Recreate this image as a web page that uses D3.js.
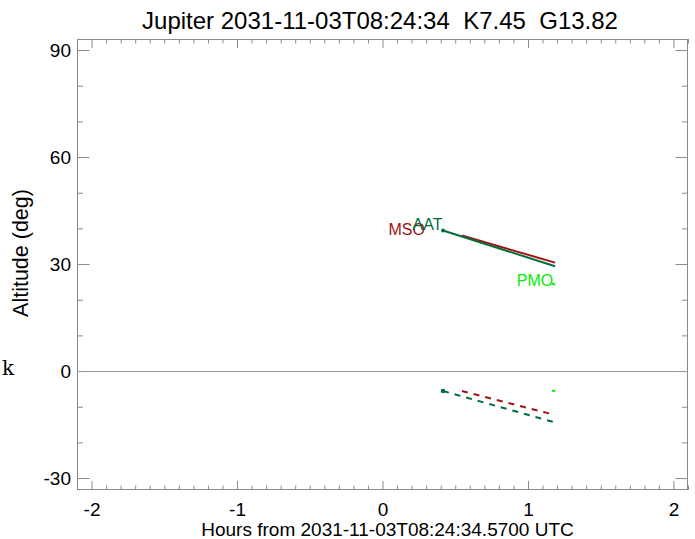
<!DOCTYPE html>
<html>
<head>
<meta charset="utf-8">
<script src="https://cdn.jsdelivr.net/npm/d3@7/dist/d3.min.js"></script>
<style>
  html, body { margin: 0; padding: 0; background: #fff; }
  svg { display: block; }
  text { white-space: pre; }
</style>
</head>
<body>
<svg id="chart" width="695" height="539"></svg>
<script>
// ---- data ----
const titleText = "Jupiter 2031-11-03T08:24:34  K7.45  G13.82";
const xTitle = "Hours from 2031-11-03T08:24:34.5700 UTC";
const yTitle = "Altitude (deg)";
const xMajorTicks = [-2, -1, 0, 1, 2];
const yMajorTicks = [-30, 0, 30, 60, 90];

const observatories = ["MSO", "AAT", "PMO"];
// object altitude tracks (hours from reference time, altitude deg)
const msoHours = [0.546, 1.186];
const msoAlt = [38.0, 30.4];
const aatHours = [0.416, 1.186];
const aatAlt = [39.4, 29.4];
const pmoHours = [1.165, 1.186];
const pmoAlt = [24.6, 24.2];
// dashed tracks (sun altitude)
const msoSunAlt = [-5.6, -12.3];
const aatSunAlt = [-5.6, -14.4];
const pmoSunAlt = [-5.5, -5.6];
// label anchors (hours, altitude)
const labelHours = [0.292, 0.412, 1.174];
const labelAlt = [38.2, 39.6, 23.8];

(function () {
// ---- styles ----
const colorOf = { MSO: "#9e1414", AAT: "#006e3c", PMO: "#00ee00" };
const sans = "'Liberation Sans', Arial, Helvetica, sans-serif";

const svg = d3.select("#chart");
const mL = 77, mR = 688, mT = 39, mB = 490;
const x = d3.scaleLinear().domain([-2.1, 2.1]).range([mL, mR]);
const y = d3.scaleLinear().domain([-33.35, 93.1]).range([mB, mT]);

const axisColor = "#8a8a8a";
const fmt = d => String(d);

const xMinor = d3.range(-21, 22).map(d => d / 10).filter(v => !xMajorTicks.some(m => Math.abs(m - v) < 1e-9));
const yMinor = d3.range(-30, 91, 10).filter(v => !yMajorTicks.includes(v));

function styleAxis(g) {
  g.select(".domain").remove();
  g.selectAll(".tick line").attr("stroke", axisColor).attr("stroke-width", 1);
  g.selectAll(".tick text").attr("fill", "#000").attr("font-size", 19)
    .style("font-family", sans);
}

svg.append("g").attr("transform", `translate(0,${mB})`)
  .call(d3.axisBottom(x).tickValues(xMajorTicks).tickSize(-9).tickPadding(13).tickFormat(fmt))
  .call(styleAxis);
svg.append("g").attr("transform", `translate(0,${mB})`)
  .call(d3.axisBottom(x).tickValues(xMinor).tickSize(-4.5).tickFormat(""))
  .call(styleAxis);
svg.append("g").attr("transform", `translate(0,${mT})`)
  .call(d3.axisTop(x).tickValues(xMajorTicks).tickSize(-9).tickFormat(""))
  .call(styleAxis);
svg.append("g").attr("transform", `translate(0,${mT})`)
  .call(d3.axisTop(x).tickValues(xMinor).tickSize(-4.5).tickFormat(""))
  .call(styleAxis);
svg.append("g").attr("transform", `translate(${mL},0)`)
  .call(d3.axisLeft(y).tickValues(yMajorTicks).tickSize(-12.5).tickPadding(6).tickFormat(fmt))
  .call(styleAxis);
svg.append("g").attr("transform", `translate(${mL},0)`)
  .call(d3.axisLeft(y).tickValues(yMinor).tickSize(-6).tickFormat(""))
  .call(styleAxis);
svg.append("g").attr("transform", `translate(${mR},0)`)
  .call(d3.axisRight(y).tickValues(yMajorTicks).tickSize(-12.5).tickFormat(""))
  .call(styleAxis);
svg.append("g").attr("transform", `translate(${mR},0)`)
  .call(d3.axisRight(y).tickValues(yMinor).tickSize(-6).tickFormat(""))
  .call(styleAxis);

svg.append("rect").attr("x", mL + 0.5).attr("y", mT + 0.5)
  .attr("width", mR - mL - 1).attr("height", mB - mT - 1)
  .attr("fill", "none").attr("stroke", axisColor).attr("stroke-width", 1);

svg.append("line").attr("x1", x(-2.1)).attr("x2", x(2.1))
  .attr("y1", Math.round(y(0)) + 0.5).attr("y2", Math.round(y(0)) + 0.5)
  .attr("stroke", "#999").attr("stroke-width", 1);

const tracks = [
  { name: "MSO", hours: msoHours, alt: msoAlt, sun: msoSunAlt },
  { name: "AAT", hours: aatHours, alt: aatAlt, sun: aatSunAlt },
  { name: "PMO", hours: pmoHours, alt: pmoAlt, sun: pmoSunAlt }
];
const line = d3.line().x(d => x(d[0])).y(d => y(d[1]));

tracks.forEach(t => {
  const solid = t.hours.map((h, i) => [h, t.alt[i]]);
  const dashed = t.hours.map((h, i) => [h, t.sun[i]]);
  svg.append("path").attr("d", line(solid)).attr("fill", "none")
    .attr("stroke", colorOf[t.name]).attr("stroke-width", 2);
  svg.append("path").attr("d", line(dashed)).attr("fill", "none")
    .attr("stroke", colorOf[t.name]).attr("stroke-width", 2)
    .attr("stroke-dasharray", "6,6");
});
svg.append("circle").attr("cx", x(aatHours[0])).attr("cy", y(aatAlt[0])).attr("r", 2).attr("fill", colorOf.AAT);
svg.append("circle").attr("cx", x(aatHours[0])).attr("cy", y(aatSunAlt[0])).attr("r", 2.3).attr("fill", colorOf.AAT);

observatories.forEach((name, i) => {
  svg.append("text").attr("x", x(labelHours[i])).attr("y", y(labelAlt[i]))
    .attr("text-anchor", "end").attr("font-size", 16).style("font-family", sans)
    .attr("fill", colorOf[name]).text(name);
});

svg.append("text").attr("x", 380).attr("y", 29).attr("text-anchor", "middle")
  .attr("font-size", 24).style("font-family", sans).attr("fill", "#000").text(titleText);
svg.append("text").attr("x", x(0) + 5).attr("y", 536).attr("text-anchor", "middle")
  .attr("font-size", 19).style("font-family", sans).attr("fill", "#000").text(xTitle);
svg.append("text").attr("transform", `translate(28,${253}) rotate(-90)`)
  .attr("text-anchor", "middle").attr("font-size", 21.5).style("font-family", sans)
  .attr("fill", "#000").text(yTitle);
svg.append("text").attr("x", 2).attr("y", 375).style("font-family", "'DejaVu Serif', serif")
  .attr("font-size", 20).attr("fill", "#000").text("k");
})();
</script>
</body>
</html>
